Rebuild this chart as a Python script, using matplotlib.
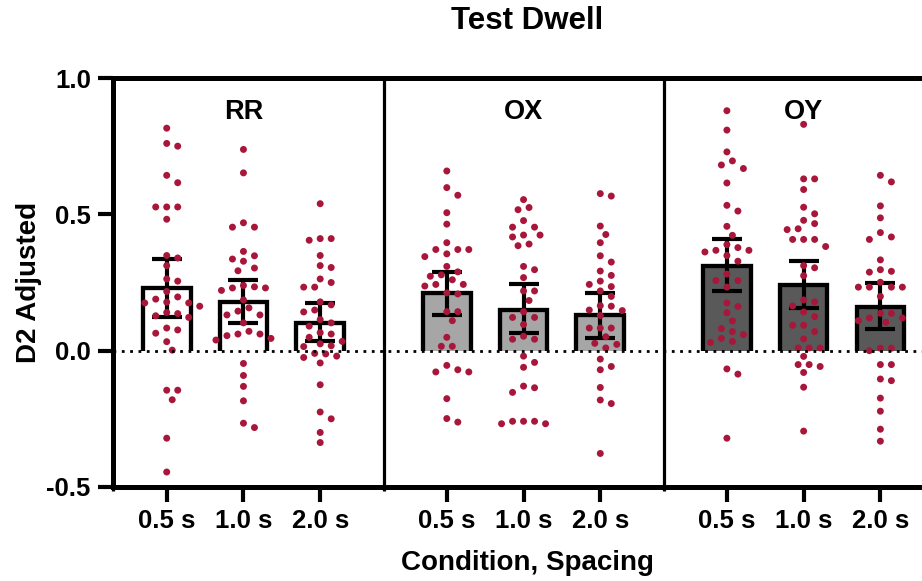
import numpy as np
import matplotlib
matplotlib.use("Agg")
import matplotlib.pyplot as plt
from matplotlib.ticker import FixedLocator, FuncFormatter

plt.rcParams['font.family'] = ['Liberation Sans', 'DejaVu Sans']
plt.rcParams['font.weight'] = 'bold'

# ---------------- data ----------------
title = "Test Dwell"
panels = ["RR", "OX", "OY"]
spacings = ["0.5 s", "1.0 s", "2.0 s"]
panel_fills = ["#ffffff", "#a6a6a6", "#595959"]

means = [0.23, 0.18, 0.10,
         0.21, 0.15, 0.13,
         0.31, 0.24, 0.16]
ci_low = [0.125, 0.10, 0.035,
          0.13, 0.063, 0.045,
          0.22, 0.155, 0.08]
ci_high = [0.335, 0.26, 0.175,
           0.29, 0.243, 0.213,
           0.41, 0.33, 0.25]

rr_05 = [0.816, 0.760, 0.750, 0.643, 0.616, 0.527, 0.527, 0.527, 0.482, 0.349,
         0.340, 0.312, 0.263, 0.255, 0.217, 0.197, 0.189, 0.175, 0.175, 0.178,
         0.163, 0.136, 0.140, 0.128, 0.122, 0.083, 0.076, 0.064, 0.033, 0.002,
         -0.145, -0.145, -0.180, -0.321, -0.445]
rr_10 = [0.738, 0.652, 0.469, 0.453, 0.453, 0.364, 0.348, 0.336, 0.328, 0.303,
         0.293, 0.239, 0.234, 0.230, 0.230, 0.221, 0.186, 0.157, 0.145, 0.131,
         0.131, 0.102, 0.071, 0.061, 0.061, 0.055, 0.045, 0.039, -0.047, -0.091,
         -0.131, -0.184, -0.266, -0.282]
rr_20 = [0.539, 0.411, 0.411, 0.405, 0.349, 0.312, 0.305, 0.263, 0.250, 0.233,
         0.233, 0.179, 0.168, 0.149, 0.142, 0.114, 0.102, 0.090, 0.066, 0.061,
         0.049, 0.034, 0.025, 0.018, 0.015, -0.010, -0.012, -0.020, -0.025, -0.045,
         -0.125, -0.225, -0.250, -0.300, -0.337]
ox_05 = [0.659, 0.598, 0.570, 0.506, 0.464, 0.396, 0.371, 0.371, 0.371, 0.355,
         0.345, 0.309, 0.289, 0.278, 0.273, 0.260, 0.243, 0.243, 0.237, 0.212,
         0.208, 0.143, 0.143, 0.110, 0.049, 0.016, 0.016, -0.054, -0.070, -0.078,
         -0.078, -0.176, -0.249, -0.262]
ox_10 = [0.554, 0.525, 0.517, 0.477, 0.453, 0.453, 0.424, 0.424, 0.417, 0.391,
         0.385, 0.309, 0.297, 0.268, 0.219, 0.219, 0.184, 0.143, 0.122, 0.122,
         0.096, 0.053, 0.042, 0.042, -0.020, -0.043, -0.061, -0.130, -0.136, -0.153,
         -0.259, -0.259, -0.259, -0.268, -0.268]
ox_20 = [0.576, 0.567, 0.457, 0.426, 0.396, 0.348, 0.325, 0.292, 0.276, 0.255,
         0.243, 0.235, 0.219, 0.199, 0.165, 0.163, 0.149, 0.147, 0.129, 0.083,
         0.083, 0.083, 0.051, 0.027, 0.023, 0.010, -0.031, -0.058, -0.070, -0.135,
         -0.181, -0.194, -0.377]
oy_05 = [0.880, 0.809, 0.729, 0.696, 0.681, 0.668, 0.615, 0.533, 0.512, 0.456,
         0.423, 0.389, 0.378, 0.368, 0.368, 0.362, 0.349, 0.328, 0.281, 0.257,
         0.257, 0.233, 0.175, 0.162, 0.139, 0.109, 0.081, 0.070, 0.059, 0.045,
         0.034, 0.030, -0.067, -0.086, -0.321]
oy_10 = [0.830, 0.630, 0.630, 0.591, 0.526, 0.502, 0.478, 0.466, 0.447, 0.444,
         0.408, 0.408, 0.408, 0.382, 0.312, 0.304, 0.275, 0.186, 0.179, 0.164,
         0.142, 0.125, 0.093, 0.093, 0.070, 0.043, 0.010, 0.010, 0.010, -0.021,
         -0.051, -0.051, -0.058, -0.080, -0.134, -0.295]
oy_20 = [0.643, 0.619, 0.531, 0.487, 0.433, 0.417, 0.408, 0.333, 0.297, 0.291,
         0.288, 0.251, 0.233, 0.233, 0.233, 0.233, 0.199, 0.137, 0.137, 0.120,
         0.120, 0.110, 0.104, 0.009, 0.009, 0.000, -0.051, -0.051, -0.104, -0.110,
         -0.174, -0.222, -0.288, -0.332]

groups = [rr_05, rr_10, rr_20, ox_05, ox_10, ox_20, oy_05, oy_10, oy_20]
ytick_vals = [-0.5, 0.0, 0.5, 1.0]

# ---------------- layout ----------------
W, H = 922, 581
fig = plt.figure(figsize=(W / 100, H / 100), dpi=100)
ax_left, ax_right, ax_top, ax_bot = 113, 941, 78, 487
ax = fig.add_axes([ax_left / W, 1 - ax_bot / H, (ax_right - ax_left) / W, (ax_bot - ax_top) / H])

panel_gap = 3.65
xpos = [p * panel_gap + c for p in range(3) for c in range(3)]
xmin, xmax = -0.70, 10.09
ymin, ymax = -0.5, 1.0
ax.set_xlim(xmin, xmax)
ax.set_ylim(ymin, ymax)

sx = (ax_right - ax_left) / (xmax - xmin)   # px per x unit
sy = (ax_bot - ax_top) / (ymax - ymin)      # px per y unit


def swarm(vals, center, step_px=11.0, diam_px=9.6):
    vals = np.asarray(vals, dtype=float)
    cands = [0.0]
    for k in range(1, 14):
        cands += [k * step_px / 2, -k * step_px / 2]
    placed = []
    xs = np.zeros(len(vals))
    for i in np.argsort(-vals):
        y = vals[i] * sy
        chosen = cands[-1]
        for c in cands:
            if all((c - px) ** 2 + (y - py) ** 2 >= diam_px ** 2 for px, py in placed):
                chosen = c
                break
        placed.append((chosen, y))
        xs[i] = center + chosen / sx
    return xs


bar_w = 0.62
for i, x in enumerate(xpos):
    p = i // 3
    # fill (no outline), then three-sided outline without a bottom edge
    ax.bar(x, means[i], width=bar_w, color=panel_fills[p], linewidth=0, zorder=2)
    ax.plot([x - bar_w / 2, x - bar_w / 2, x + bar_w / 2, x + bar_w / 2],
            [0, means[i], means[i], 0], color='black', lw=3.1,
            solid_joinstyle='miter', solid_capstyle='butt', zorder=2.5)
    ax.errorbar(x, means[i],
                yerr=[[means[i] - ci_low[i]], [ci_high[i] - means[i]]],
                fmt='none', ecolor='black', elinewidth=3.0, capsize=10.8,
                capthick=3.0, zorder=3)
    xs = swarm(groups[i], x)
    ax.scatter(xs, groups[i], s=25, color='#A8173A', edgecolors='none', zorder=4)

# zero line
ax.axhline(0, color='black', lw=2.0, ls=(0, (1, 2.0)), zorder=5)

# panel dividers
dividers = [(xpos[2] + xpos[3]) / 2, (xpos[5] + xpos[6]) / 2]
for d in dividers:
    ax.axvline(d, color='black', lw=2.3, zorder=1)

# panel labels
for p, name in enumerate(panels):
    ax.text(xpos[p * 3 + 1], 0.875, name, ha='center', va='center',
            fontsize=19.5, fontweight='bold')

# spines
for s in ['left', 'top', 'bottom']:
    ax.spines[s].set_linewidth(3.6)
ax.spines['right'].set_visible(False)

# ticks
ax.xaxis.set_major_locator(FixedLocator(xpos))
ax.set_xticklabels(spacings * 3)
ax.xaxis.set_minor_locator(FixedLocator([xmin] + dividers))
ax.yaxis.set_major_locator(FixedLocator(ytick_vals))
ax.yaxis.set_major_formatter(FuncFormatter(lambda v, _: f"{v:.1f}".replace("\u2212", "-")))
ax.tick_params(axis='both', which='major', length=11, width=3.0, labelsize=18.5, pad=5)
ax.tick_params(axis='x', which='minor', length=3, width=2.3)
for lab in ax.get_xticklabels() + ax.get_yticklabels():
    lab.set_fontweight('bold')

ax.set_xlabel("Condition, Spacing", fontsize=20, fontweight='bold', labelpad=12)
ax.set_ylabel("D2 Adjusted", fontsize=20, fontweight='bold', labelpad=3)

fig.text(527 / W, 1 - 21 / H, title, ha='center', va='center', fontsize=22.5, fontweight='bold')

fig.savefig("out.png", dpi=100)
